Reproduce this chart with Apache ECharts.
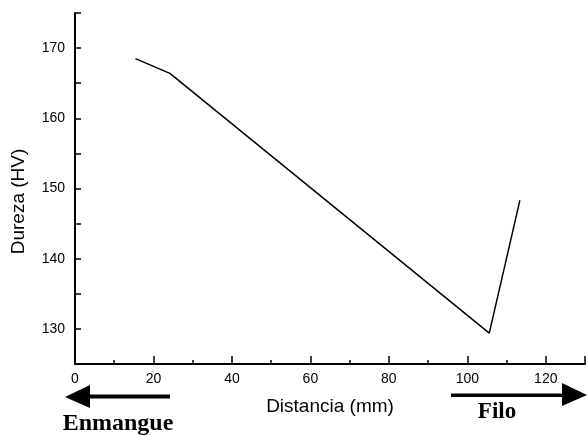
<!DOCTYPE html>
<html><head><meta charset="utf-8">
<script src="https://cdn.jsdelivr.net/npm/echarts@6/dist/echarts.min.js"></script>
<style>html,body{margin:0;padding:0;background:#fff}#c{width:588px;height:435px}</style>
</head><body><div id="c"></div>
<script>
const distancia = [15.4, 24.2, 105.6, 113.4];
const dureza = [168.5, 166.4, 129.4, 148.3];
const xTicks = [0, 20, 40, 60, 80, 100, 120];
const yTicks = [130, 140, 150, 160, 170];

const chart = echarts.init(document.getElementById('c'));
const font = 'Liberation Sans, Arial, sans-serif';
chart.setOption({
  animation: false,
  grid: {left: 75, top: 13, right: -7, bottom: 71},
  xAxis: {
    type: 'value', min: 0, max: 130, interval: 20,
    name: 'Distancia (mm)', nameLocation: 'middle', nameGap: 33,
    nameTextStyle: {fontFamily: font, fontSize: 19, color: '#000'},
    axisLine: {lineStyle: {color: '#000', width: 2}},
    axisTick: {inside: true, length: 8, lineStyle: {color: '#000', width: 1.5}},
    minorTick: {show: true, splitNumber: 2, length: 4, lineStyle: {color: '#000', width: 1.5}},
    axisLabel: {fontFamily: font, fontSize: 14, color: '#000', margin: 8,
      formatter: v => xTicks.includes(v) ? String(v) : ''},
    splitLine: {show: false}
  },
  yAxis: {
    type: 'value', min: 125, max: 175, interval: 5,
    name: 'Dureza (HV)', nameLocation: 'middle', nameGap: 47,
    nameTextStyle: {fontFamily: font, fontSize: 19, color: '#000', padding: [0, 26, 0, 0]},
    axisLine: {show: true, lineStyle: {color: '#000', width: 2}},
    axisTick: {show: true, inside: true, length: 6, lineStyle: {color: '#000', width: 1.5}},
    axisLabel: {fontFamily: font, fontSize: 14, color: '#000', margin: 10,
      formatter: v => yTicks.includes(v) ? String(v) : ''},
    splitLine: {show: false}
  },
  series: [{
    type: 'line',
    data: distancia.map((x, i) => [x, dureza[i]]),
    symbol: 'none',
    lineStyle: {color: '#000', width: 1.5}
  }],
  graphic: [
    {type: 'polygon', shape: {points: [[65, 397], [90, 385], [90, 408]]}, style: {fill: '#000'}},
    {type: 'rect', shape: {x: 89, y: 394.5, width: 81, height: 4}, style: {fill: '#000'}},
    {type: 'text', x: 118, y: 424, style: {text: 'Enmangue', font: 'bold 24px "Liberation Serif", serif', fill: '#000', textAlign: 'center', textVerticalAlign: 'middle'}},
    {type: 'rect', shape: {x: 451, y: 393.5, width: 112, height: 3.5}, style: {fill: '#000'}},
    {type: 'polygon', shape: {points: [[562, 383], [587, 395], [562, 406]]}, style: {fill: '#000'}},
    {type: 'text', x: 497, y: 412, style: {text: 'Filo', font: 'bold 23px "Liberation Serif", serif', fill: '#000', textAlign: 'center', textVerticalAlign: 'middle'}}
  ]
});
</script></body></html>
